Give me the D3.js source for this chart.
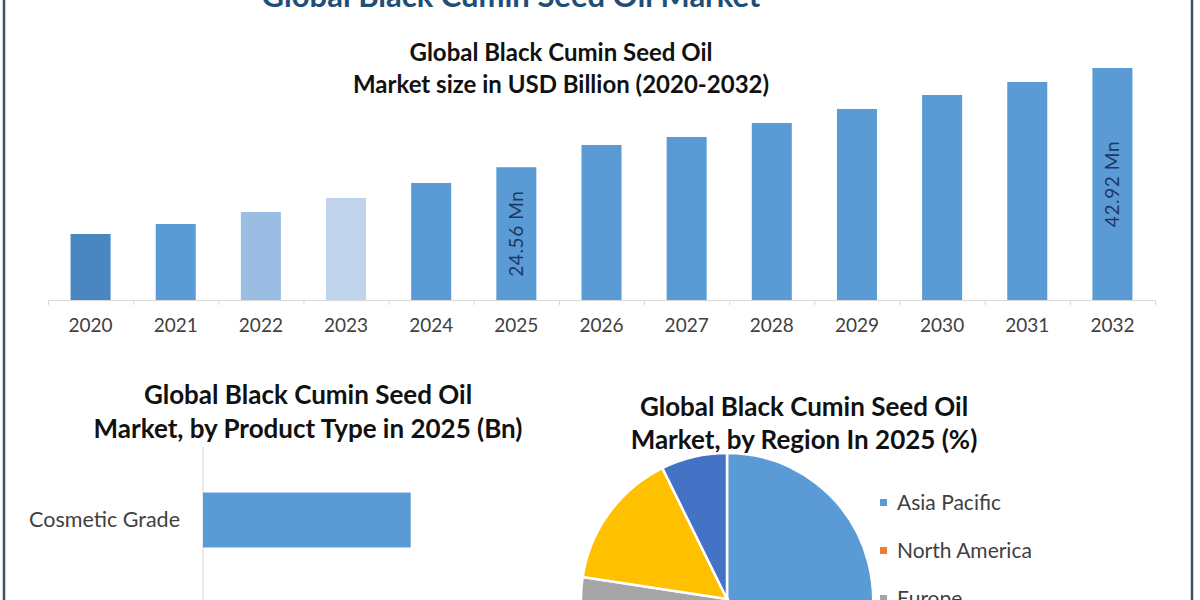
<!DOCTYPE html>
<html>
<head>
<meta charset="utf-8">
<script src="https://cdn.jsdelivr.net/npm/d3@7"></script>
<style>
  body { margin: 0; background: #fff; }
  svg text { font-family: Lato, "Open Sans", sans-serif; }
</style>
</head>
<body>
<div id="chart"></div>
<script>
// market size by year (USD Mn)
var years = ['2020', '2021', '2022', '2023', '2024', '2025', '2026',
	     '2027', '2028', '2029', '2030', '2031', '2032'];
var market_size = [12.21, 14.06, 16.28, 18.87, 21.65, 24.56, 28.68,
		   30.16, 32.75, 35.34, 37.93, 40.33, 42.92];
var bar_colors = ['#4a86c0', '#5b9bd5', '#9cbde3', '#bfd3ec', '#5b9bd5', '#5b9bd5', '#5b9bd5',
		  '#5b9bd5', '#5b9bd5', '#5b9bd5', '#5b9bd5', '#5b9bd5', '#5b9bd5'];
var labelled_years = ['2025', '2032'];

// product type in 2025 (Bn)
var product_types = ['Cosmetic Grade'];
var product_values = [6.2];

// region share in 2025 (%)
var regions = ['Asia Pacific', 'North America', 'Europe', 'Middle East and Africa', 'South America'];
var region_shares = [42, 21.5, 13.9, 15.3, 7.3];
var region_colors = ['#5b9bd5', '#ed7d31', '#a5a5a5', '#ffc000', '#4472c4'];

var width = 1200, height = 600;
var svg = d3.select('#chart').append('svg')
    .attr('width', width)
    .attr('height', height);

// frame of the infographic, top and bottom cut off
svg.append('rect')
    .attr('x', 4).attr('y', -20)
    .attr('width', 1188).attr('height', height + 40)
    .attr('fill', 'none')
    .attr('stroke', '#3f5166')
    .attr('stroke-width', 2.5);

// main heading, mostly above the picture
svg.append('text')
    .attr('x', 511).attr('y', 7)
    .attr('text-anchor', 'middle')
    .attr('font-size', 31)
    .attr('font-weight', 'bold')
    .attr('fill', '#1f4e79')
    .text('Global Black Cumin Seed Oil Market');

function title(x, y, lines, size, gap) {
    var t = svg.append('text')
	.attr('text-anchor', 'middle')
	.attr('font-size', size)
	.attr('font-weight', 'bold')
	.attr('fill', '#111');
    lines.forEach((line, i) => {
	t.append('tspan').attr('x', x).attr('y', y + i * gap).text(line);
    });
}

// ---- top: market size bars ----
title(561, 61, ['Global Black Cumin Seed Oil', 'Market size in USD Billion (2020-2032)'], 24, 32);

var base_y = 300;
var x = d3.scaleBand()
    .domain(years)
    .range([48, 1155])
    .paddingInner(0.53)
    .paddingOuter(0.265);
var y = d3.scaleLinear()
    .domain([0, d3.max(market_size)])
    .range([base_y, 68]);

var bars = svg.append('g');
bars.selectAll('rect')
    .data(years)
    .join('rect')
    .attr('x', d => x(d))
    .attr('width', x.bandwidth())
    .attr('y', (d, i) => y(market_size[i]))
    .attr('height', (d, i) => base_y - y(market_size[i]))
    .attr('fill', (d, i) => bar_colors[i]);

// category boundary ticks, Excel style
var edges = d3.scaleLinear().domain([0, years.length]).range(x.range());
svg.append('g')
    .attr('transform', `translate(0,${base_y})`)
    .call(d3.axisBottom(edges).tickValues(d3.range(years.length + 1)).tickSize(5).tickSizeOuter(0).tickFormat(''))
    .call(g => g.selectAll('path,line').attr('stroke', '#d9d9d9'));

svg.append('g')
    .attr('transform', `translate(0,${base_y})`)
    .call(d3.axisBottom(x).tickSize(0).tickPadding(19))
    .call(g => g.select('.domain').remove())
    .call(g => g.selectAll('text')
	  .attr('font-size', 19)
	  .attr('font-family', 'Lato, sans-serif')
	  .attr('fill', '#404040'));

bars.selectAll('text')
    .data(labelled_years)
    .join('text')
    .attr('transform', d => {
	var v = market_size[years.indexOf(d)];
	return `translate(${x(d) + x.bandwidth() / 2},${(y(v) + base_y) / 2}) rotate(-90)`;
    })
    .attr('text-anchor', 'middle')
    .attr('dy', '0.35em')
    .attr('font-size', 19)
    .attr('letter-spacing', 0.6)
    .attr('fill', '#1f3864')
    .text(d => market_size[years.indexOf(d)].toFixed(2) + ' Mn');

// ---- bottom left: product type ----
title(308, 404, ['Global Black Cumin Seed Oil', 'Market, by Product Type in 2025 (Bn)'], 26, 34);

var px = d3.scaleLinear().domain([0, 10]).range([203, 538]);
var py = d3.scaleBand()
    .domain(product_types)
    .range([447, 593])
    .paddingInner(0.3)
    .paddingOuter(0.58);

svg.append('line')
    .attr('x1', px(0)).attr('x2', px(0))
    .attr('y1', 447).attr('y2', height)
    .attr('stroke', '#d9d9d9');

svg.append('g').selectAll('rect')
    .data(product_types)
    .join('rect')
    .attr('x', px(0))
    .attr('y', d => py(d))
    .attr('width', (d, i) => px(product_values[i]) - px(0))
    .attr('height', py.bandwidth())
    .attr('fill', '#5b9bd5');

svg.append('g')
    .attr('transform', `translate(${px(0)},0)`)
    .call(d3.axisLeft(py).tickSize(0).tickPadding(23))
    .call(g => g.select('.domain').remove())
    .call(g => g.selectAll('text')
	  .attr('font-size', 21.5)
	  .attr('font-family', 'Lato, sans-serif')
	  .attr('fill', '#404040'));

// ---- bottom right: region pie ----
title(804, 416, ['Global Black Cumin Seed Oil', 'Market, by Region In 2025 (%)'], 26, 33);

var pie = d3.pie().sort(null).value(d => d);
var arc = d3.arc().innerRadius(0).outerRadius(146);
svg.append('g')
    .attr('transform', 'translate(727,599)')
    .selectAll('path')
    .data(pie(region_shares))
    .join('path')
    .attr('d', arc)
    .attr('fill', (d, i) => region_colors[i])
    .attr('stroke', '#fff')
    .attr('stroke-width', 2.5);

var legend = svg.append('g')
    .selectAll('g')
    .data(regions)
    .join('g')
    .attr('transform', (d, i) => `translate(880,${503 + i * 48})`);
legend.append('rect')
    .attr('x', 0).attr('y', -4)
    .attr('width', 7).attr('height', 7)
    .attr('fill', (d, i) => region_colors[i]);
legend.append('text')
    .attr('x', 17)
    .attr('dy', '0.35em')
    .attr('font-size', 21)
    .attr('fill', '#404040')
    .text(d => d);
</script>
</body>
</html>
